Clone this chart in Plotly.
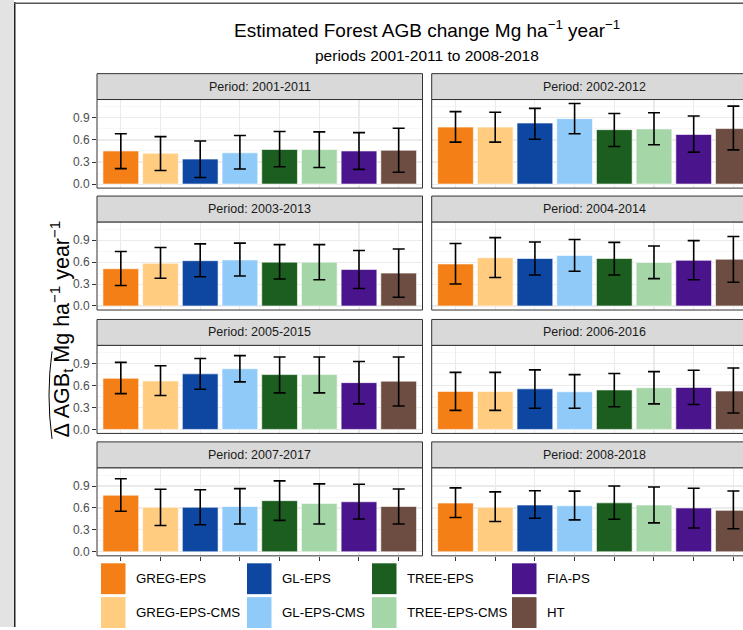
import plotly.graph_objects as go

W, H = 743, 630

methods = ["GREG-EPS", "GREG-EPS-CMS", "GL-EPS", "GL-EPS-CMS",
           "TREE-EPS", "TREE-EPS-CMS", "FIA-PS", "HT"]
colors = ["#F57F17", "#FFCC80", "#0D47A1", "#90CAF9",
          "#1B5E20", "#A5D6A7", "#4A148C", "#6D4C41"]

periods = ["2001-2011", "2002-2012", "2003-2013", "2004-2014",
           "2005-2015", "2006-2016", "2007-2017", "2008-2018"]

est_2001_2011 = [0.45, 0.42, 0.34, 0.425, 0.47, 0.47, 0.45, 0.46]
lo_2001_2011 = [0.21, 0.185, 0.09, 0.205, 0.235, 0.225, 0.20, 0.16]
hi_2001_2011 = [0.685, 0.645, 0.585, 0.66, 0.715, 0.71, 0.70, 0.76]

est_2002_2012 = [0.775, 0.775, 0.83, 0.89, 0.74, 0.75, 0.675, 0.755]
lo_2002_2012 = [0.57, 0.57, 0.61, 0.685, 0.51, 0.535, 0.435, 0.465]
hi_2002_2012 = [0.985, 0.977, 1.03, 1.095, 0.96, 0.97, 0.925, 1.06]

est_2003_2013 = [0.51, 0.585, 0.62, 0.63, 0.60, 0.60, 0.50, 0.45]
lo_2003_2013 = [0.28, 0.38, 0.40, 0.41, 0.37, 0.36, 0.24, 0.12]
hi_2003_2013 = [0.745, 0.80, 0.85, 0.86, 0.84, 0.84, 0.76, 0.78]

est_2004_2014 = [0.575, 0.66, 0.65, 0.69, 0.65, 0.595, 0.625, 0.64]
lo_2004_2014 = [0.30, 0.39, 0.425, 0.475, 0.425, 0.375, 0.36, 0.325]
hi_2004_2014 = [0.855, 0.935, 0.875, 0.91, 0.87, 0.82, 0.895, 0.95]

est_2005_2015 = [0.70, 0.663, 0.76, 0.83, 0.75, 0.75, 0.64, 0.66]
lo_2005_2015 = [0.49, 0.463, 0.55, 0.65, 0.50, 0.50, 0.35, 0.32]
hi_2005_2015 = [0.917, 0.87, 0.97, 1.01, 0.99, 0.99, 0.93, 0.99]

est_2006_2016 = [0.52, 0.52, 0.555, 0.515, 0.54, 0.57, 0.575, 0.525]
lo_2006_2016 = [0.26, 0.26, 0.29, 0.29, 0.31, 0.35, 0.34, 0.225]
hi_2006_2016 = [0.78, 0.78, 0.815, 0.75, 0.765, 0.79, 0.81, 0.84]

est_2007_2017 = [0.775, 0.61, 0.61, 0.62, 0.70, 0.66, 0.685, 0.62]
lo_2007_2017 = [0.555, 0.36, 0.37, 0.38, 0.43, 0.38, 0.45, 0.38]
hi_2007_2017 = [1.0, 0.855, 0.85, 0.865, 0.97, 0.93, 0.925, 0.86]

est_2008_2018 = [0.667, 0.61, 0.64, 0.63, 0.67, 0.64, 0.60, 0.567]
lo_2008_2018 = [0.47, 0.415, 0.46, 0.437, 0.445, 0.396, 0.325, 0.315]
hi_2008_2018 = [0.875, 0.82, 0.835, 0.83, 0.90, 0.887, 0.87, 0.833]

y_ticks = [0.0, 0.3, 0.6, 0.9]
y_tick_labels = ["0.0", "0.3", "0.6", "0.9"]
y_minor = [0.15, 0.45, 0.75, 1.05]

panel_data = [
    (est_2001_2011, lo_2001_2011, hi_2001_2011),
    (est_2002_2012, lo_2002_2012, hi_2002_2012),
    (est_2003_2013, lo_2003_2013, hi_2003_2013),
    (est_2004_2014, lo_2004_2014, hi_2004_2014),
    (est_2005_2015, lo_2005_2015, hi_2005_2015),
    (est_2006_2016, lo_2006_2016, hi_2006_2016),
    (est_2007_2017, lo_2007_2017, hi_2007_2017),
    (est_2008_2018, lo_2008_2018, hi_2008_2018),
]

FONT = "Liberation Sans, Arial, Helvetica, sans-serif"


def px(x):
    return x / W


def py(y):
    return 1 - y / H


# panel geometry (pixels)
col_x = [(97.0, 422.5), (431.7, 757.2)]
row_y = [(100.0, 189.0), (223.0, 311.5), (347.0, 435.5), (470.0, 558.5)]
strip_h = 26.0
unit_px = (col_x[0][1] - col_x[0][0]) / 8.2

fig = go.Figure()
layout = dict(
    width=W, height=H, autosize=False,
    margin=dict(l=0, r=0, t=0, b=0),
    paper_bgcolor="white", plot_bgcolor="white",
    showlegend=False, bargap=0.1,
    font=dict(family=FONT, color="#000000"),
)
shapes = []
annotations = []

# page framing: grey left strip and frame lines
shapes.append(dict(type="rect", xref="paper", yref="paper",
                   x0=0, x1=px(14), y0=0, y1=1,
                   line=dict(width=0), fillcolor="#E3E3E3", layer="below"))
shapes.append(dict(type="rect", xref="paper", yref="paper",
                   x0=px(14), x1=px(15.5), y0=0, y1=py(2),
                   line=dict(width=0), fillcolor="#222222", layer="below"))
shapes.append(dict(type="rect", xref="paper", yref="paper",
                   x0=px(14), x1=1, y0=py(4), y1=py(2.5),
                   line=dict(width=0), fillcolor="#555555", layer="below"))

for i, per in enumerate(periods):
    r, c = divmod(i, 2)
    n = i + 1
    xa = "xaxis" if n == 1 else f"xaxis{n}"
    ya = "yaxis" if n == 1 else f"yaxis{n}"
    xr = "x" if n == 1 else f"x{n}"
    yr = "y" if n == 1 else f"y{n}"
    est, lo, hi = panel_data[i]
    fig.add_trace(go.Bar(
        x=methods, y=est, xaxis=xr, yaxis=yr,
        marker=dict(color=colors, line=dict(color="white", width=0.6)),
        error_y=dict(type="data", symmetric=False,
                     array=[h - e for h, e in zip(hi, est)],
                     arrayminus=[e - l for e, l in zip(est, lo)],
                     color="black", thickness=1.6, width=6),
        hoverinfo="skip",
    ))
    x0p, x1p = col_x[c]
    y0p, y1p = row_y[r]
    x1_dom = min(x1p, W)
    xmax = -0.6 + (x1_dom - x0p) / unit_px
    layout[xa] = dict(
        domain=[px(x0p), px(x1_dom)], anchor=yr,
        type="category", categoryorder="array", categoryarray=methods,
        range=[-0.6, xmax], fixedrange=True,
        showgrid=True, gridcolor="#EBEBEB", gridwidth=1.1,
        showticklabels=False, zeroline=False, showline=False,
        ticks="outside" if r == 3 else "", ticklen=4, tickcolor="#333333",
        tickwidth=1,
    )
    layout[ya] = dict(
        domain=[py(y1p), py(y0p)], anchor=xr,
        range=[-0.055, 1.15], fixedrange=True,
        tickvals=y_ticks, ticktext=y_tick_labels,
        showgrid=True, gridcolor="#EBEBEB", gridwidth=1.1,
        minor=dict(tickvals=y_minor, showgrid=True, gridcolor="#F3F3F3",
                   gridwidth=0.7, ticks=""),
        zeroline=False, showline=False,
        showticklabels=(c == 0),
        ticks="outside" if c == 0 else "", ticklen=4, tickcolor="#333333",
        tickwidth=1,
        tickfont=dict(size=12, color="#4D4D4D", family=FONT),
    )
    # panel border
    shapes.append(dict(type="rect", xref="paper", yref="paper",
                       x0=px(x0p), x1=px(x1p), y0=py(y1p), y1=py(y0p),
                       line=dict(color="#333333", width=1),
                       fillcolor="rgba(0,0,0,0)", layer="above"))
    # strip
    shapes.append(dict(type="rect", xref="paper", yref="paper",
                       x0=px(x0p), x1=px(x1p), y0=py(y0p), y1=py(y0p - strip_h),
                       line=dict(color="#333333", width=1),
                       fillcolor="#D9D9D9", layer="above"))
    annotations.append(dict(
        text=f"Period: {per}", xref="paper", yref="paper",
        x=px((x0p + x1p) / 2), y=py(y0p - strip_h / 2),
        xanchor="center", yanchor="middle", showarrow=False,
        font=dict(size=12.5, color="#1A1A1A", family=FONT)))

# titles
annotations.append(dict(
    text="Estimated Forest AGB change Mg ha<sup>−1</sup> year<sup>−1</sup>",
    xref="paper", yref="paper", x=px(427), y=py(29),
    xanchor="center", yanchor="middle", showarrow=False,
    font=dict(size=19, color="#000000", family=FONT)))
annotations.append(dict(
    text="periods 2001-2011 to 2008-2018",
    xref="paper", yref="paper", x=px(427), y=py(56),
    xanchor="center", yanchor="middle", showarrow=False,
    font=dict(size=15.5, color="#000000", family=FONT)))

# y-axis title (with a wide hat drawn over "Δ AGB_t")
ylab_cy = 331
annotations.append(dict(
    text="Δ AGB<sub>t</sub> Mg ha<sup>−1</sup> year<sup>−1</sup>",
    xref="paper", yref="paper", x=px(61), y=py(ylab_cy),
    xanchor="center", yanchor="middle", showarrow=False, textangle=-90,
    font=dict(size=21.5, color="#000000", family=FONT)))
hat = [(52.0, 441), (46.0, 397), (52.0, 353)]
shapes.append(dict(
    type="path", xref="paper", yref="paper",
    path="M {:.5f},{:.5f} Q {:.5f},{:.5f} {:.5f},{:.5f}".format(
        px(hat[0][0]), py(hat[0][1]), px(hat[1][0]), py(hat[1][1]),
        px(hat[2][0]), py(hat[2][1])),
    line=dict(color="#000000", width=1), layer="above"))

# legend (custom keys)
leg_x = [101, 247, 372, 512]
leg_rows = [(566, 597), (600, 631)]
for k, (m, col) in enumerate(zip(methods, colors)):
    cc, rr = divmod(k, 2)
    kx0 = leg_x[cc]
    ky0, ky1 = leg_rows[rr]
    shapes.append(dict(type="rect", xref="paper", yref="paper",
                       x0=px(kx0), x1=px(kx0 + 24.5), y0=py(ky1), y1=py(ky0),
                       line=dict(width=0), fillcolor=col, layer="above"))
    annotations.append(dict(
        text=m, xref="paper", yref="paper", x=px(kx0 + 33), y=py((ky0 + ky1) / 2),
        xanchor="left", yanchor="middle", showarrow=False,
        font=dict(size=13.3, color="#000000", family=FONT)))

layout["shapes"] = shapes
layout["annotations"] = annotations
fig.update_layout(**layout)
fig.write_html(
    "out.html",
    config={"displayModeBar": False, "staticPlot": True},
    post_script="document.body.style.margin='0';document.body.style.overflow='hidden';",
)
